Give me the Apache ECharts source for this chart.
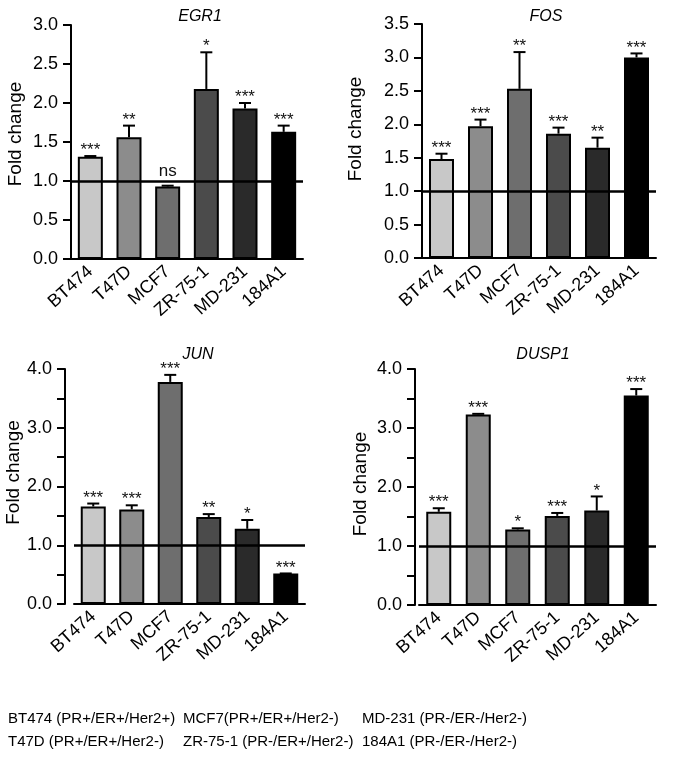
<!DOCTYPE html>
<html><head><meta charset="utf-8">
<script src="https://cdn.jsdelivr.net/npm/echarts@6/dist/echarts.min.js"></script>
<style>html,body{margin:0;padding:0;background:#fff}#c{width:693px;height:766px}</style>
</head><body><div id="c"></div>
<script>
const categories = ['BT474','T47D','MCF7','ZR-75-1','MD-231','184A1'];
const barColors = ['#c8c8c8','#8c8c8c','#6e6e6e','#4b4b4b','#2a2a2a','#000000'];

const egr1 = [1.31, 1.56, 0.93, 2.18, 1.93, 1.63];
const egr1Sem = [0.01, 0.15, 0.01, 0.47, 0.07, 0.08];
const egr1Sig = ['***','**','ns','*','***','***'];

const fos = [1.48, 1.97, 2.53, 1.86, 1.65, 3.00];
const fosSem = [0.08, 0.10, 0.55, 0.09, 0.15, 0.06];
const fosSig = ['***','***','**','***','**','***'];

const jun = [1.66, 1.61, 3.78, 1.48, 1.28, 0.52];
const junSem = [0.05, 0.07, 0.12, 0.05, 0.15, 0.0];
const junSig = ['***','***','***','**','*','***'];

const dusp1 = [1.58, 3.23, 1.28, 1.51, 1.60, 3.55];
const dusp1Sem = [0.06, 0.01, 0.02, 0.05, 0.24, 0.11];
const dusp1Sig = ['***','***','*','***','*','***'];

const legendLines = [
  ['BT474 (PR+/ER+/Her2+)', 'MCF7(PR+/ER+/Her2-)', 'MD-231 (PR-/ER-/Her2-)'],
  ['T47D (PR+/ER+/Her2-)', 'ZR-75-1 (PR-/ER+/Her2-)', '184A1 (PR-/ER-/Her2-)']
];

const FF = 'Liberation Sans, Arial, sans-serif';

const panels = [
  {title:'EGR1', vals:egr1, sem:egr1Sem, sig:egr1Sig, max:3, interval:0.5, minor:false,
   grid:{left:71, top:25, width:232, height:234}, off:0, nameGap:46, tx:195, ty:4, namePad:16},
  {title:'FOS', vals:fos, sem:fosSem, sig:fosSig, max:3.5, interval:0.5, minor:false,
   grid:{left:422, top:24, width:234, height:234}, off:0, nameGap:57, tx:541, ty:4, namePad:24},
  {title:'JUN', vals:jun, sem:junSem, sig:junSig, max:4, interval:1, minor:true,
   grid:{left:74, top:369, width:231, height:235}, off:9, nameGap:32, tx:193, ty:342, namePad:28},
  {title:'DUSP1', vals:dusp1, sem:dusp1Sem, sig:dusp1Sig, max:4, interval:1, minor:true,
   grid:{left:419, top:369, width:237, height:236}, off:4, nameGap:45, tx:538, ty:342, namePad:6}
];

function errRender(p){
  return function(params, api){
    const i = params.dataIndex;
    const v = p.vals[i], t = v + p.sem[i];
    const a = api.coord([i, v]), b = api.coord([i, t]);
    const cw = 6;
    const s = p.sig[i];
    const ns = s === 'ns';
    return {type:'group', children:[
      {type:'line', shape:{x1:a[0], y1:a[1], x2:b[0], y2:b[1]}, style:{stroke:'#000', lineWidth:2}},
      {type:'line', shape:{x1:b[0]-cw, y1:b[1], x2:b[0]+cw, y2:b[1]}, style:{stroke:'#000', lineWidth:2}},
      {type:'text', x:b[0], y:b[1] + (ns ? -6 : 3), style:{text:s, x:0, y:0, align:'center', verticalAlign:'bottom',
        font:'17px ' + FF, fill:'#111'}}
    ]};
  };
}

const option = {
  animation:false,
  title: panels.map(p=>({text:p.title, left:p.tx, top:p.ty, textAlign:'center',
    textStyle:{fontFamily:FF, fontSize:16, fontStyle:'italic', fontWeight:'normal', color:'#000'}})),
  grid: panels.map(p=>p.grid),
  xAxis: panels.map((p,k)=>({type:'category', gridIndex:k, data:categories,
    axisLine:{lineStyle:{color:'#000', width:2}},
    axisTick:{alignWithLabel:true, length:7, lineStyle:{color:'#000', width:2}},
    axisLabel:{interval:0, rotate:42, margin:10, fontFamily:FF, fontSize:18, color:'#000'},
    splitLine:{show:false}})),
  yAxis: panels.map((p,k)=>({type:'value', gridIndex:k, min:0, max:p.max, interval:p.interval, offset:p.off,
    name:'Fold change', nameLocation:'middle', nameRotate:90, nameGap:p.nameGap,
    nameTextStyle:{fontFamily:FF, fontSize:19, color:'#000', padding:[0,0,0,p.namePad]},
    axisLine:{show:true, lineStyle:{color:'#000', width:2}},
    axisTick:{show:true, length:8, lineStyle:{color:'#000', width:2}},
    minorTick:{show:p.minor, splitNumber:2, length:8, lineStyle:{color:'#000', width:2}},
    axisLabel:{margin:13, fontFamily:FF, fontSize:18, color:'#000', formatter:v=>v.toFixed(1)},
    splitLine:{show:false}})),
  graphic: legendLines.flatMap((row,r)=>row.map((t,c)=>({type:'text',
    style:{text:t, x:[8,183,362][c], y:[719,742][r], verticalAlign:'middle', font:'15px '+FF, fill:'#000'}}))),
  series: panels.flatMap((p,k)=>[
    {type:'bar', xAxisIndex:k, yAxisIndex:k, barWidth:25,
     data:p.vals.map((v,i)=>({value:v, itemStyle:{color:barColors[i]}})),
     itemStyle:{borderColor:'#000', borderWidth:2},
     markLine:{silent:true, symbol:'none', label:{show:false},
       lineStyle:{color:'#000', width:2.5, type:'solid'}, data:[{yAxis:1}]}},
    {type:'custom', xAxisIndex:k, yAxisIndex:k, z:5,
     data:p.vals.map((v,i)=>[i, v+p.sem[i]]), encode:{x:0, y:1},
     renderItem:errRender(p)}
  ])
};
const chart = echarts.init(document.getElementById('c'), null, {renderer:'canvas'});
chart.setOption(option);
</script></body></html>
